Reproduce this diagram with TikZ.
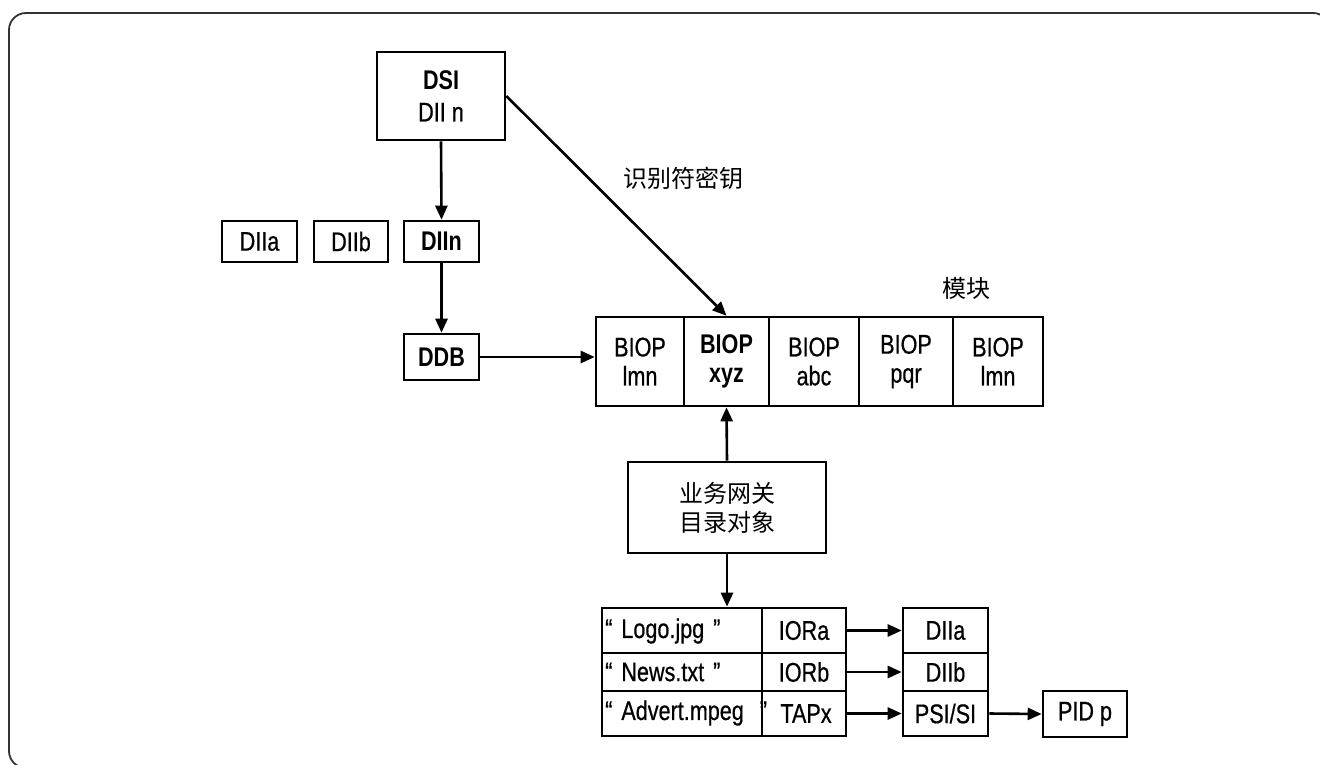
\documentclass[tikz,border=0pt]{standalone}
\usepackage{fontspec}
\setmainfont{Liberation Sans}[FakeStretch=0.8, UprightFeatures={FakeBold=0.6}]
\newfontfamily\cjk{Noto Sans CJK SC}
\usetikzlibrary{arrows.meta}
\begin{document}
\begin{tikzpicture}[x=1pt,y=-1pt,
  every node/.style={font=\fontsize{27}{29}\selectfont},
  box/.style={draw, line width=2.6pt, inner sep=0pt, align=center},
  lbl/.style={inner sep=0pt},
  cjklbl/.style={inner sep=0pt, font=\fontsize{24}{29}\selectfont\cjk},
  conn/.style={line width=2.6pt, -{Triangle[length=14pt,width=12pt]}},
  frame/.style={draw=black!80, line width=1.8pt, rounded corners=17pt}]
\useasboundingbox (0,0) rectangle (1320,764);
\path[frame] (9,13) rectangle (1330,768);

% top part
\node[box, minimum width=128, minimum height=88, font=\fontsize{27}{32}\selectfont] (dsi) at (441,96) {\textbf{DSI}\\DII n};
\node[box, minimum width=75, minimum height=41] (dlla) at (259.5,241.5) {DIIa};
\node[box, minimum width=74, minimum height=41] (dllb) at (351,241.5) {DIIb};
\node[box, minimum width=75, minimum height=41] (dlln) at (441.5,241.5) {\textbf{DIIn}};
\node[box, minimum width=75, minimum height=46] (ddb) at (441.5,357) {\textbf{DDB}};

% module row
\node[box, minimum width=88, minimum height=89] (b1) at (640,361.5) {BIOP\\lmn};
\node[box, minimum width=85, minimum height=89] (b2) at (726.5,361.5) {\textbf{BIOP}\\\textbf{xyz}};
\node[box, minimum width=90, minimum height=89] (b3) at (814,361.5) {BIOP\\abc};
\node[box, minimum width=94, minimum height=89] (b4) at (906,361.5) {BIOP\\pqr};
\node[box, minimum width=90, minimum height=89] (b5) at (998,361.5) {BIOP\\lmn};
\node[cjklbl] (mod) at (966,288) {模块};
\node[cjklbl, anchor=west] (key) at (623,178) {识别符密钥};

% gateway
\node[box, minimum width=198, minimum height=91, font=\fontsize{24}{29}\selectfont\cjk] (gw) at (727,507.5) {业务网关\\目录对象};

% directory table
\node[box, minimum width=160, minimum height=45] (t1l) at (682,630.5) {};
\node[box, minimum width=84, minimum height=45] (t1r) at (804,630.5) {IORa};
\node[box, minimum width=160, minimum height=38] (t2l) at (682,672) {};
\node[box, minimum width=84, minimum height=38] (t2r) at (804,672) {IORb};
\node[box, minimum width=160, minimum height=45] (t3l) at (682,713.5) {};
\node[box, minimum width=84, minimum height=45] (t3r) at (804,713.5) {\hspace{4pt}TAPx};
\node[lbl, anchor=west] (n1) at (605,631) {“\hspace{3pt} Logo.jpg\hspace{3pt} ”};
\node[lbl, anchor=west] (n2) at (605,672) {“\hspace{3pt} News.txt\hspace{3pt} ”};
\node[lbl, anchor=west] (n3) at (605,713) {“\hspace{3pt} Advert.mpeg\hspace{10pt} ”};

\node[box, minimum width=85, minimum height=45] (d1) at (945.5,630.5) {DIIa};
\node[box, minimum width=85, minimum height=38] (d2) at (945.5,672) {DIIb};
\node[box, minimum width=85, minimum height=45] (d3) at (945.5,713.5) {PSI/SI};
\node[box, minimum width=84, minimum height=46] (pid) at (1085,714) {PID p};

% connectors
\draw[conn] (dsi.south) -- (dlln.north);
\draw[conn] (dlln.south) -- (ddb.north);
\draw[conn] (ddb.east) -- (b1.west |- ddb.east);
\draw[conn] (dsi.east) -- (b2.north);
\draw[conn] (gw.north) -- (b2.south);
\draw[conn] (gw.south) -- (gw.south |- t1l.north);
\draw[conn] (t1r.east) -- (d1.west);
\draw[conn] (t2r.east) -- (d2.west);
\draw[conn] (t3r.east) -- (d3.west);
\draw[conn] (d3.east) -- (pid.west);
\end{tikzpicture}
\end{document}
